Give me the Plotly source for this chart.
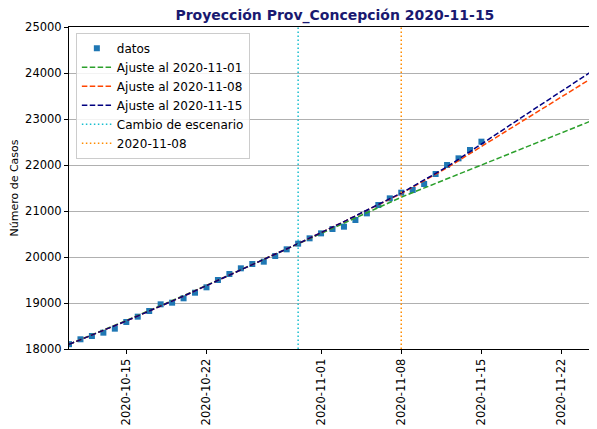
import plotly.graph_objects as go

# --- data ---
obs_dates = [
    "2020-10-10", "2020-10-11", "2020-10-12", "2020-10-13", "2020-10-14", "2020-10-15",
    "2020-10-16", "2020-10-17", "2020-10-18", "2020-10-19", "2020-10-20", "2020-10-21",
    "2020-10-22", "2020-10-23", "2020-10-24", "2020-10-25", "2020-10-26", "2020-10-27",
    "2020-10-28", "2020-10-29", "2020-10-30", "2020-10-31", "2020-11-01", "2020-11-02",
    "2020-11-03", "2020-11-04", "2020-11-05", "2020-11-06", "2020-11-07", "2020-11-08",
    "2020-11-09", "2020-11-10", "2020-11-11", "2020-11-12", "2020-11-13", "2020-11-14",
    "2020-11-15",
]
obs_cases = [
    18105, 18211, 18283, 18355, 18442, 18587,
    18703, 18826, 18971, 19007, 19102, 19224,
    19341, 19500, 19630, 19754, 19848, 19898,
    20022, 20167, 20290, 20406, 20514, 20609,
    20659, 20804, 20949, 21130, 21275, 21398,
    21457, 21587, 21804, 22000, 22145, 22326,
    22507,
]

fit_dates = ["2020-10-10", "2020-10-15", "2020-10-20", "2020-10-25", "2020-10-30",
             "2020-11-03", "2020-11-08", "2020-11-12", "2020-11-15", "2020-11-20",
             "2020-11-25"]
fit_1101 = [18100, 18620, 19160, 19720, 20280, 20730, 21300, 21700, 22000, 22490, 23000]
fit_1108 = [18100, 18610, 19150, 19720, 20290, 20770, 21380, 21940, 22400, 23180, 23945]
fit_1115 = [18100, 18610, 19150, 19720, 20290, 20770, 21390, 21960, 22460, 23280, 24095]

scenario_change = "2020-10-30"
cut_date = "2020-11-08"

x_range = ["2020-10-10", "2020-11-25"]
y_range = [18000, 25000]
x_tick_dates = ["2020-10-15", "2020-10-22", "2020-11-01", "2020-11-08", "2020-11-15", "2020-11-22"]
y_ticks = [18000, 19000, 20000, 21000, 22000, 23000, 24000, 25000]
y_tick_text = [str(v) for v in y_ticks]

FONT = "DejaVu Sans, Arial, sans-serif"

fig = go.Figure()

fig.add_trace(go.Scatter(
    x=obs_dates, y=obs_cases, mode="markers", name="datos",
    marker=dict(symbol="square", size=6, color="#1f77b4"),
))

for name, vals, col in [
    ("Ajuste al 2020-11-01", fit_1101, "#2ca02c"),
    ("Ajuste al 2020-11-08", fit_1108, "#ff4500"),
    ("Ajuste al 2020-11-15", fit_1115, "#000080"),
]:
    fig.add_trace(go.Scatter(
        x=fit_dates, y=vals, mode="lines", name=name,
        line=dict(color=col, width=1.5, dash="5.5px,2.4px"),
    ))

fig.add_trace(go.Scatter(
    x=[scenario_change, scenario_change], y=y_range, mode="lines",
    name="Cambio de escenario",
    line=dict(color="#17becf", width=1.5, dash="1.5px,2.5px"),
))
fig.add_trace(go.Scatter(
    x=[cut_date, cut_date], y=y_range, mode="lines", name=cut_date,
    line=dict(color="#ff8c00", width=1.5, dash="1.5px,2.5px"),
))

# page body has an 8px default margin, so the figure is sized/offset to fit the window
fig.update_layout(
    width=589, height=421,
    margin=dict(l=61, r=1, t=19, b=80, autoexpand=False),
    paper_bgcolor="white", plot_bgcolor="white",
    font=dict(family=FONT, size=11, color="black"),
    title=dict(
        text="<b>Proyección Prov_Concepción 2020-11-15</b>",
        font=dict(family=FONT, size=14, color="#191970"),
        x=0.555, xanchor="center", xref="container",
        y=0.983, yanchor="middle", yref="container",
    ),
    showlegend=True,
    legend=dict(
        x=0.013, y=0.982, xanchor="left", yanchor="top",
        bgcolor="rgba(255,255,255,0.85)", bordercolor="#cccccc", borderwidth=1,
        font=dict(family=FONT, size=12), itemwidth=30, tracegroupgap=0,
    ),
)

fig.update_xaxes(
    type="date", range=x_range, automargin=False,
    tickvals=x_tick_dates, ticktext=x_tick_dates, tickangle=-90,
    showgrid=False, showline=True, linecolor="black", linewidth=1, mirror=True,
    ticks="outside", ticklen=4, tickcolor="black", zeroline=False,
    tickfont=dict(family=FONT, size=11.5),
)
fig.update_yaxes(
    range=y_range, tickvals=y_ticks, ticktext=y_tick_text, automargin=False,
    showgrid=True, gridcolor="#b0b0b0", gridwidth=1,
    showline=True, linecolor="black", linewidth=1, mirror=True,
    ticks="outside", ticklen=4, tickcolor="black", zeroline=False,
    title=dict(text="Número de Casos", font=dict(family=FONT, size=11), standoff=10),
    tickfont=dict(family=FONT, size=11.5),
)

fig.write_html("out.html")
